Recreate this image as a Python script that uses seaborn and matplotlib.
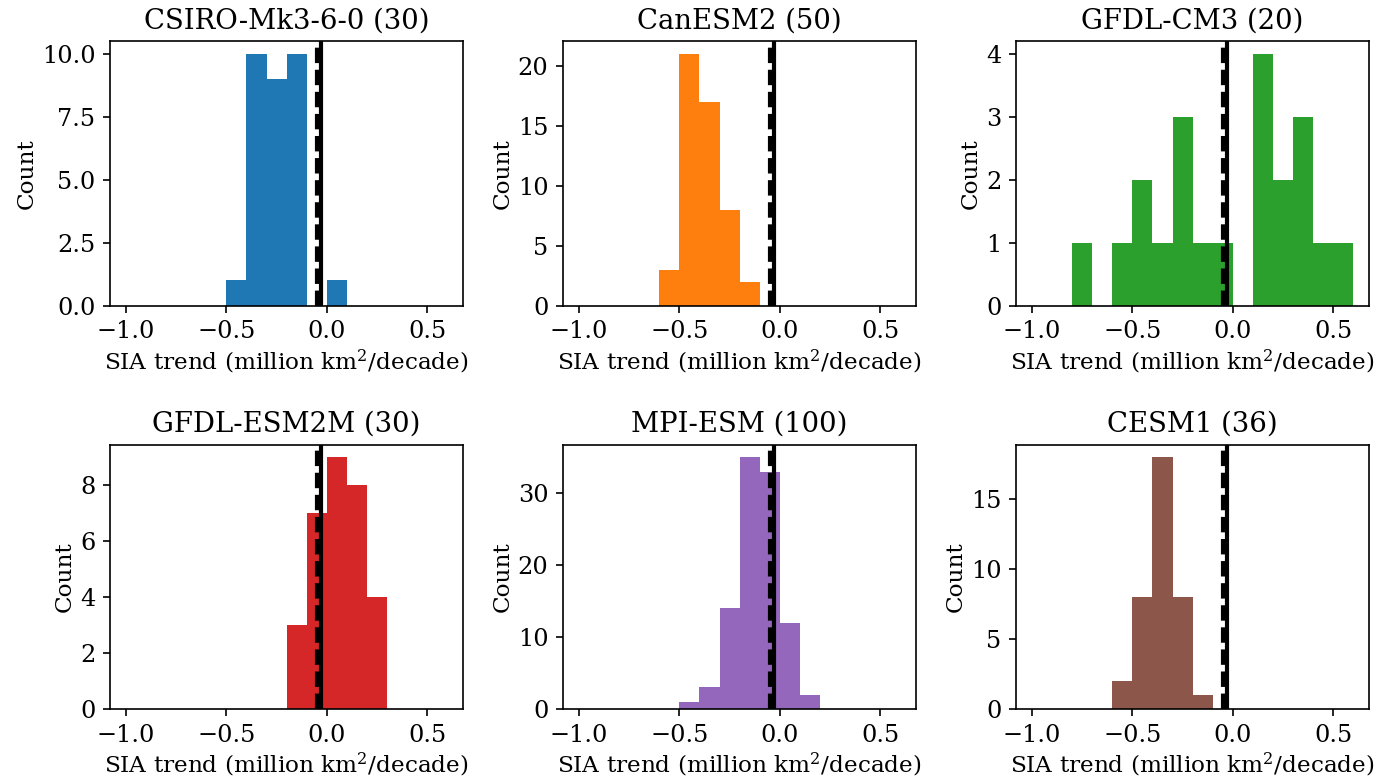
import numpy as np
import pandas as pd
import matplotlib
matplotlib.use("Agg")
import matplotlib.pyplot as plt
import seaborn as sns

# ---- data ----
models = ["CSIRO-Mk3-6-0", "CanESM2", "GFDL-CM3", "GFDL-ESM2M", "MPI-ESM", "CESM1"]
members = [30, 50, 20, 30, 100, 36]
bin_edges = [-1.0, -0.9, -0.8, -0.7, -0.6, -0.5, -0.4, -0.3, -0.2, -0.1,
             0.0, 0.1, 0.2, 0.3, 0.4, 0.5, 0.6]
#            -1.0 -.9 -.8 -.7 -.6 -.5 -.4 -.3 -.2 -.1  0  .1  .2  .3  .4  .5
counts_csiro = [0, 0, 0, 0, 0, 1, 10, 9, 10, 0, 1, 0, 0, 0, 0, 0]
counts_canesm = [0, 0, 0, 0, 3, 21, 17, 8, 2, 0, 0, 0, 0, 0, 0, 0]
counts_gfdlcm3 = [0, 0, 1, 0, 1, 2, 1, 3, 1, 1, 0, 4, 2, 3, 1, 1]
counts_esm2m = [0, 0, 0, 0, 0, 0, 0, 0, 3, 7, 9, 8, 4, 0, 0, 0]
counts_mpi = [0, 0, 0, 0, 0, 1, 3, 14, 35, 33, 12, 2, 0, 0, 0, 0]
counts_cesm = [0, 0, 0, 0, 2, 8, 18, 8, 1, 0, 0, 0, 0, 0, 0, 0]
all_counts = [counts_csiro, counts_canesm, counts_gfdlcm3,
              counts_esm2m, counts_mpi, counts_cesm]
obs_trend_dashed = -0.05
obs_trend_solid = -0.027
xlabel = "SIA trend (million km$^2$/decade)"

colors = sns.color_palette("tab10", 6)

plt.rcParams["font.family"] = ["DejaVu Serif"]
plt.rcParams["mathtext.fontset"] = "dejavuserif"
plt.rcParams["font.size"] = 11.5
plt.rcParams["axes.titlesize"] = 13.2
plt.rcParams["axes.labelsize"] = 11.1
plt.rcParams["axes.labelpad"] = 2.0

fig, axes = plt.subplots(2, 3, figsize=(1376 / 150, 777 / 150), dpi=150)
fig.subplots_adjust(left=0.080, right=0.995, top=0.947, bottom=0.0875,
                    wspace=0.283, hspace=0.525)
centers = [(a + b) / 2 for a, b in zip(bin_edges[:-1], bin_edges[1:])]

for ax, name, n, cnt, col in zip(axes.flat, models, members, all_counts, colors):
    df = pd.DataFrame({"trend": centers, "w": cnt})
    sns.histplot(data=df, x="trend", weights="w", bins=list(bin_edges), color=col,
                 alpha=1, linewidth=0, ax=ax)
    ax.axvline(obs_trend_dashed, color="black", linestyle="--", linewidth=2)
    ax.axvline(obs_trend_solid, color="black", linestyle="-", linewidth=2)
    ax.set_xlim(-1.08, 0.68)
    ax.set_title(f"{name} ({n})")
    ax.set_xlabel(xlabel)
    ax.set_ylabel("Count")

fig.savefig("out.png", dpi=150)
